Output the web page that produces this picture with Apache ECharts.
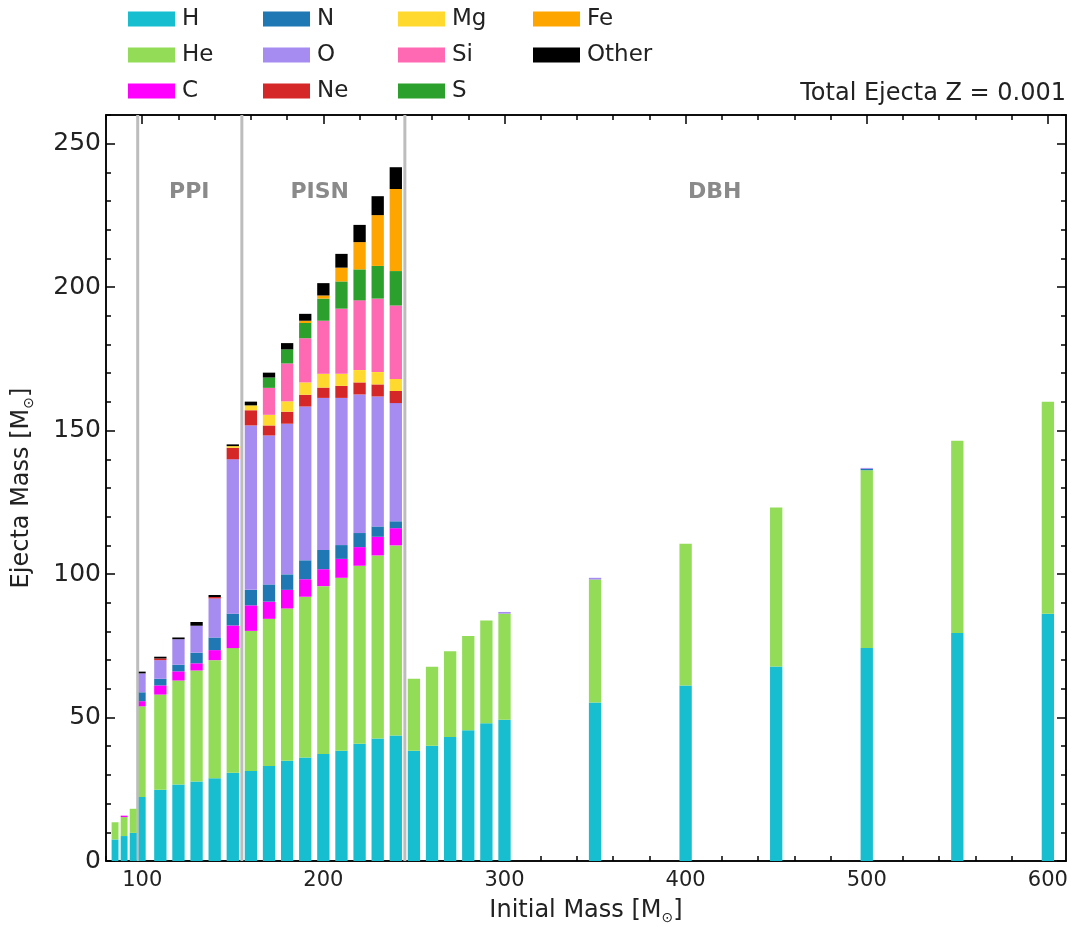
<!DOCTYPE html>
<html>
<head>
<meta charset="utf-8">
<title>Total Ejecta Z = 0.001</title>
<script src="https://cdn.jsdelivr.net/npm/echarts@6.0.0/dist/echarts.min.js"></script>
<style>
  html, body { margin: 0; padding: 0; background: #ffffff; }
  #chart { width: 1074px; height: 930px; }
</style>
</head>
<body>
<div id="chart"></div>
<script>
// Initial stellar masses (M_sun)
const masses = [85, 90, 95, 100, 110, 120, 130, 140, 150, 160,
                170, 180, 190, 200, 210, 220, 230, 240,
                250, 260, 270, 280, 290, 300,
                350, 400, 450, 500, 550, 600];

// Ejected mass per element (M_sun), one entry per initial mass
const H  = [7.5, 8.7, 9.8, 22.3, 24.8, 26.7, 27.7, 28.8, 30.8, 31.4,
            33.1, 34.9, 36.1, 37.3, 38.4, 40.9, 42.7, 43.7,
            38.4, 40.2, 43.2, 45.6, 48.0, 49.2,
            55.2, 61.2, 67.8, 74.2, 79.5, 86.2];
const He = [6.0, 6.6, 8.4, 31.6, 33.2, 36.2, 38.7, 41.2, 43.4, 48.8,
            51.3, 53.1, 56.0, 58.5, 60.3, 62.0, 63.8, 66.3,
            25.1, 27.5, 29.9, 32.8, 35.8, 37.0,
            42.9, 49.4, 55.4, 62.0, 67.0, 73.9];
const C  = [0, 0.5, 0, 1.8, 3.2, 3.2, 2.5, 3.5, 7.9, 8.9,
            6.0, 6.5, 6.1, 5.9, 6.6, 6.5, 6.5, 6.0,
            0, 0, 0, 0, 0, 0,
            0, 0, 0, 0, 0, 0];
const N  = [0, 0, 0, 3.1, 2.3, 2.3, 3.7, 4.4, 4.1, 5.4,
            6.0, 5.4, 6.6, 6.7, 4.8, 4.9, 3.6, 2.4,
            0, 0, 0, 0, 0, 0,
            0, 0, 0, 0.5, 0, 0];
const O  = [0, 0, 0, 6.6, 6.5, 8.9, 9.4, 13.6, 53.8, 57.3,
            51.9, 52.5, 53.6, 53.0, 51.3, 48.3, 45.3, 41.2,
            0, 0, 0, 0, 0, 0.6,
            0.6, 0, 0, 0.3, 0, 0];
const Ne = [0, 0, 0, 0, 0.6, 0, 0, 0.5, 4.0, 5.3,
            3.5, 4.2, 4.1, 3.6, 4.2, 4.2, 4.2, 4.2,
            0, 0, 0, 0, 0, 0,
            0, 0, 0, 0, 0, 0];
const Mg = [0, 0, 0, 0, 0, 0, 0, 0, 0.6, 1.7,
            3.7, 3.6, 4.3, 4.8, 4.2, 4.3, 4.3, 4.2,
            0, 0, 0, 0, 0, 0,
            0, 0, 0, 0, 0, 0];
const Si = [0, 0, 0, 0, 0, 0, 0, 0, 0, 0,
            9.4, 13.2, 15.4, 18.5, 22.7, 24.3, 25.6, 25.6,
            0, 0, 0, 0, 0, 0,
            0, 0, 0, 0, 0, 0];
const S  = [0, 0, 0, 0, 0, 0, 0, 0, 0, 0,
            3.6, 4.9, 5.3, 7.7, 9.5, 10.8, 11.4, 12.0,
            0, 0, 0, 0, 0, 0,
            0, 0, 0, 0, 0, 0];
const Fe = [0, 0, 0, 0, 0, 0, 0, 0, 0, 0,
            0, 0, 0.8, 1.1, 4.8, 9.5, 17.7, 28.6,
            0, 0, 0, 0, 0, 0,
            0, 0, 0, 0, 0, 0];
const Other = [0, 0, 0, 0.6, 0.6, 0.6, 1.3, 0.7, 0.6, 1.3,
               1.7, 2.2, 2.4, 4.3, 4.8, 6.0, 6.6, 7.6,
               0, 0, 0, 0, 0, 0,
               0, 0, 0, 0, 0, 0];

const elementNames = ['H', 'He', 'C', 'N', 'O', 'Ne', 'Mg', 'Si', 'S', 'Fe', 'Other'];
const elementValues = [H, He, C, N, O, Ne, Mg, Si, S, Fe, Other];

// Explosion regimes: boundaries, names, label positions
const regionBounds = [97.5, 155, 245];
const regionNames = ['PPI', 'PISN', 'DBH'];
const regionLabelX = [126, 198, 416];
const regionLabelY = 233;

// Tick values
const xMajorTicks = [100, 200, 300, 400, 500, 600];
const yMajorTicks = [0, 50, 100, 150, 200, 250];

const titleText = 'Total Ejecta Z = 0.001';

// ---- styling ----
const palette = {
  H: '#17becf', He: '#93dc58', C: '#ff00ff', N: '#1f77b4', O: '#a68bf0',
  Ne: '#d62728', Mg: '#ffd92e', Si: '#ff69b4', S: '#2ca02c', Fe: '#ffa500',
  Other: '#000000'
};
const FONT = '"DejaVu Sans", "Liberation Sans", sans-serif';
const X_MIN = 80, X_MAX = 610, Y_MIN = 0, Y_MAX = 260;

const xMinorTicks = [];
for (let v = X_MIN; v <= X_MAX; v += 20) if (v % 100 !== 0) xMinorTicks.push(v);
const yMinorTicks = [];
for (let v = Y_MIN; v <= Y_MAX; v += 10) if (v % 50 !== 0) yMinorTicks.push(v);

// Bar width in data units: a fraction of the gap to the nearest neighbour, capped
function barWidth(i) {
  let gap = Infinity;
  if (i > 0) gap = Math.min(gap, masses[i] - masses[i - 1]);
  if (i < masses.length - 1) gap = Math.min(gap, masses[i + 1] - masses[i]);
  return Math.min(6.8, 0.76 * gap);
}

// Build stacked [mass, base, top, width] rows for every element
const cumulative = masses.map(() => 0);
const barSeries = elementNames.map((name, k) => {
  const rows = masses.map((m, i) => {
    const base = cumulative[i];
    const top = base + elementValues[k][i];
    cumulative[i] = top;
    return [m, base, top, barWidth(i)];
  });
  return {
    type: 'custom',
    name: name,
    xAxisIndex: 0,
    yAxisIndex: 0,
    itemStyle: { color: palette[name] },
    encode: { x: 0, y: [1, 2] },
    data: rows,
    z: 3,
    silent: true,
    renderItem: function (params, api) {
      const x = api.value(0), lo = api.value(1), hi = api.value(2), w = api.value(3);
      if (!(hi > lo)) return null;
      const p0 = api.coord([x - w / 2, hi]);
      const p1 = api.coord([x + w / 2, lo]);
      return {
        type: 'rect',
        shape: { x: p0[0], y: p0[1], width: p1[0] - p0[0], height: p1[1] - p0[1] },
        style: { fill: api.visual('color') }
      };
    }
  };
});

// Regime dividers and labels
const regionSeries = {
  type: 'custom',
  name: 'regions',
  xAxisIndex: 0,
  yAxisIndex: 0,
  silent: true,
  z: 2,
  encode: { x: 0, y: 1 },
  data: regionNames.map((n, i) => [regionBounds[i], regionLabelY, regionLabelX[i]]),
  renderItem: function (params, api) {
    const bx = api.value(0);
    const top = api.coord([bx, Y_MAX]);
    const bot = api.coord([bx, Y_MIN]);
    const lp = api.coord([api.value(2), api.value(1)]);
    return {
      type: 'group',
      children: [
        {
          type: 'line',
          shape: { x1: top[0], y1: top[1], x2: bot[0], y2: bot[1] },
          style: { stroke: '#bdbdbd', lineWidth: 3 }
        },
        {
          type: 'text',
          x: lp[0], y: lp[1],
          style: {
            text: regionNames[params.dataIndex],
            fill: '#8a8a8a',
            font: 'bold 22px ' + FONT,
            align: 'center',
            verticalAlign: 'middle'
          }
        }
      ]
    };
  }
};

const axisLineStyle = { color: '#000000', width: 1.5 };
const tickStyle = { color: '#000000', width: 1.5 };
const nameRich = {
  sub: { fontSize: 14, fontFamily: FONT, color: '#222222', verticalAlign: 'bottom', lineHeight: 16 }
};

function xAxisDef(position, ticks, len, withLabels) {
  const ax = {
    type: 'value', position: position, min: X_MIN, max: X_MAX,
    axisLine: { show: true, onZero: false, lineStyle: axisLineStyle },
    axisTick: { show: true, inside: true, length: len, lineStyle: tickStyle, customValues: ticks },
    axisLabel: withLabels
      ? { show: true, customValues: ticks, color: '#222222', fontSize: 21, fontFamily: FONT, margin: 9 }
      : { show: false },
    splitLine: { show: false }
  };
  if (withLabels) {
    ax.name = 'Initial Mass [M{sub|⊙}]';
    ax.nameLocation = 'middle';
    ax.nameGap = 36;
    ax.nameTextStyle = { color: '#222222', fontSize: 24, fontFamily: FONT, lineHeight: 28,
                         verticalAlign: 'top', rich: nameRich };
  }
  return ax;
}

function yAxisDef(position, ticks, len, withLabels) {
  const ax = {
    type: 'value', position: position, min: Y_MIN, max: Y_MAX,
    axisLine: { show: true, onZero: false, lineStyle: axisLineStyle },
    axisTick: { show: true, inside: true, length: len, lineStyle: tickStyle, customValues: ticks },
    axisLabel: withLabels
      ? { show: true, customValues: ticks, color: '#222222', fontSize: 25, fontFamily: FONT, margin: 5 }
      : { show: false },
    splitLine: { show: false }
  };
  if (withLabels) {
    ax.name = 'Ejecta Mass [M{sub|⊙}]';
    ax.nameLocation = 'middle';
    ax.nameGap = 70;
    ax.nameRotate = 90;
    ax.nameTextStyle = { color: '#222222', fontSize: 24, fontFamily: FONT, lineHeight: 28, rich: nameRich };
  }
  return ax;
}

// Legend laid out in four columns, filled column by column
const legendColumns = [['H', 'He', 'C'], ['N', 'O', 'Ne'], ['Mg', 'Si', 'S'], ['Fe', 'Other']];
const legends = legendColumns.map((col, c) => ({
  data: col,
  orient: 'vertical',
  left: 128 + c * 135,
  top: 7,
  padding: 0,
  itemGap: 12,
  itemWidth: 47,
  itemHeight: 15,
  icon: 'rect',
  selectedMode: false,
  textStyle: { color: '#222222', fontSize: 23, fontFamily: FONT, lineHeight: 24, padding: [0, 0, 0, 2] }
}));

const chart = echarts.init(document.getElementById('chart'), null, { renderer: 'canvas' });
chart.setOption({
  animation: false,
  backgroundColor: '#ffffff',
  title: {
    text: titleText,
    right: 8,
    top: 82,
    padding: 0,
    textStyle: { color: '#222222', fontSize: 24, fontWeight: 'normal', fontFamily: FONT }
  },
  legend: legends,
  grid: { left: 105, right: 8, top: 115, bottom: 64, containLabel: false },
  xAxis: [
    xAxisDef('bottom', xMajorTicks, 9, true),
    xAxisDef('bottom', xMinorTicks, 5, false),
    xAxisDef('top', xMajorTicks, 9, false),
    xAxisDef('top', xMinorTicks, 5, false)
  ],
  yAxis: [
    yAxisDef('left', yMajorTicks, 9, true),
    yAxisDef('left', yMinorTicks, 5, false),
    yAxisDef('right', yMajorTicks, 9, false),
    yAxisDef('right', yMinorTicks, 5, false)
  ],
  series: [regionSeries].concat(barSeries)
});
</script>
</body>
</html>
